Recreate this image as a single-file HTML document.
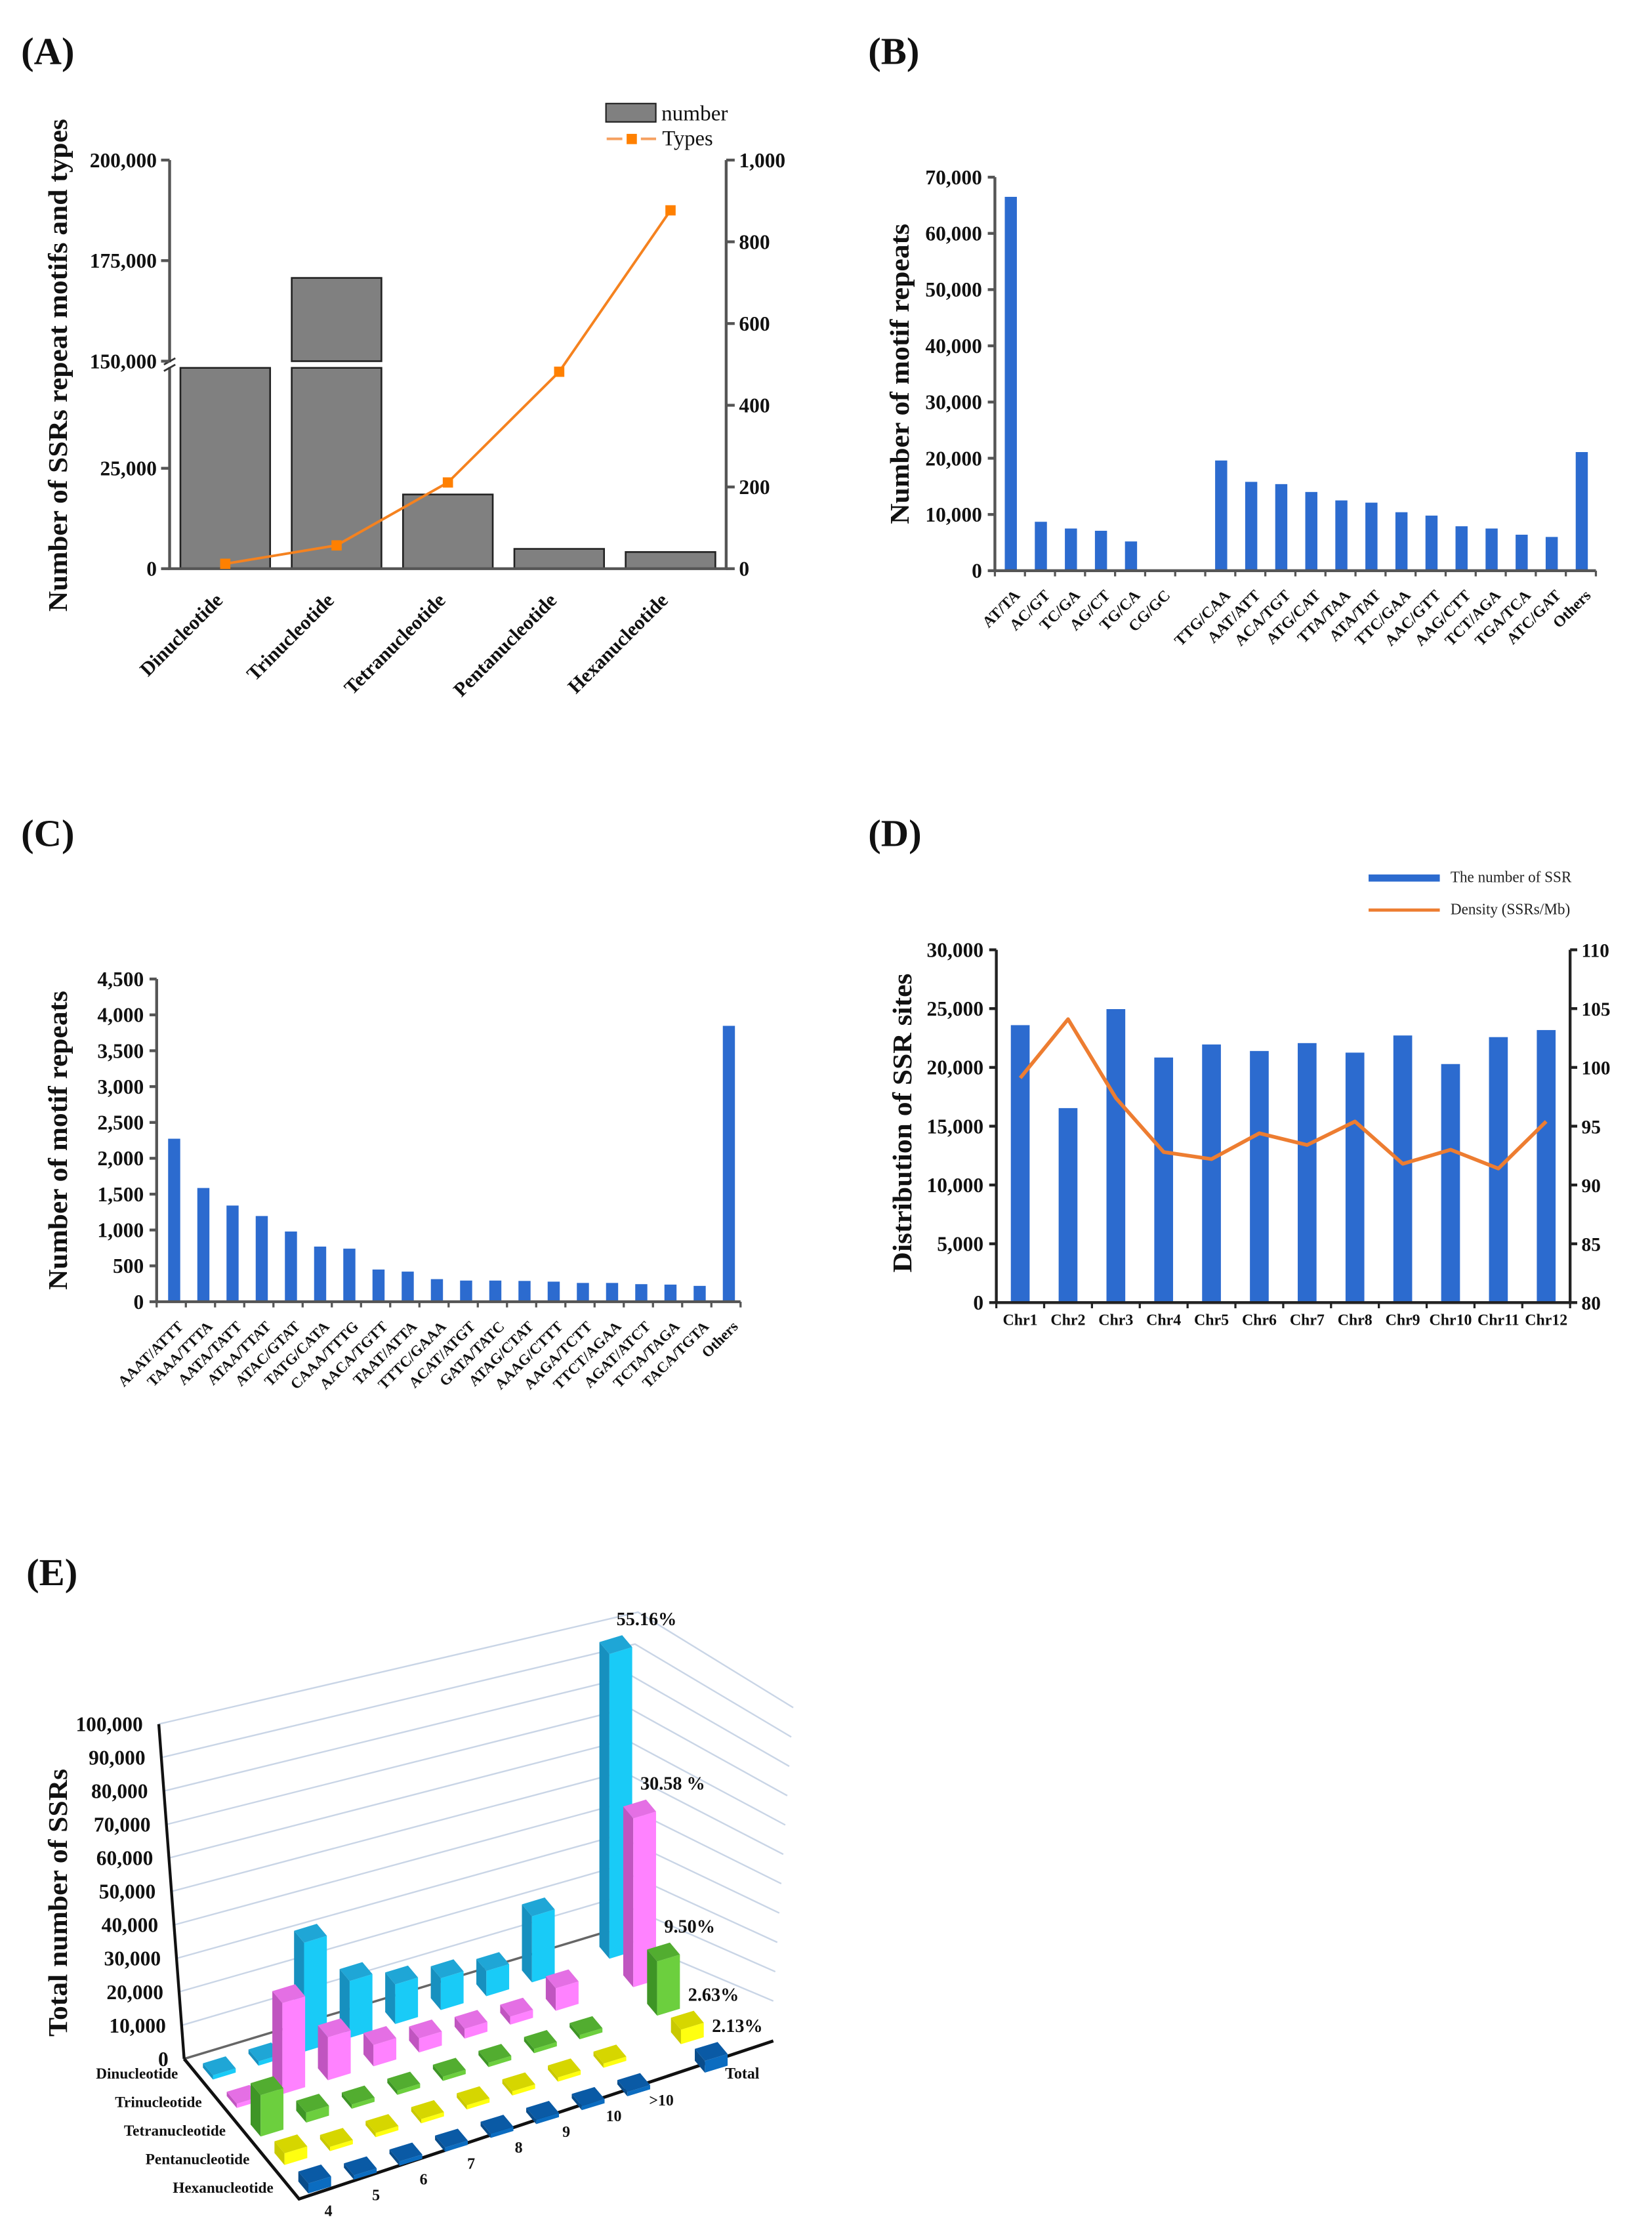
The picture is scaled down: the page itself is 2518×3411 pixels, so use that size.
<!DOCTYPE html>
<html><head><meta charset="utf-8"><title>SSR figure</title>
<style>
html,body{margin:0;padding:0;background:#fff;}
svg{display:block;font-family:"Liberation Serif","Times New Roman",serif;}
</style></head>
<body>
<svg id="fig" xmlns="http://www.w3.org/2000/svg" width="2518" height="3411" viewBox="0 0 1160 1571.4" preserveAspectRatio="none">
<rect x="0" y="0" width="1160" height="1571.4" fill="#fff"/>
<g id="pa"></g>
<g id="pb"></g>
<g id="pc"></g>
<g id="pd"></g>
<g id="pe"></g>
</svg>
<script>
// ---------- Panel A data ----------
const aCats = ["Dinucleotide","Trinucleotide","Tetranucleotide","Pentanucleotide","Hexanucleotide"];
const aNumber = [98000,170700,18475,4930,4150];
const aTypes = [12,57,211,482,877];
const aLeftTicks = [0,25000,150000,175000,200000];
const aRightTicks = [0,200,400,600,800,1000];
// ---------- Panel B data ----------
const bCats = ["AT/TA","AC/GT","TC/GA","AG/CT","TG/CA","CG/GC","","TTG/CAA","AAT/ATT","ACA/TGT","ATG/CAT","TTA/TAA","ATA/TAT","TTC/GAA","AAC/GTT","AAG/CTT","TCT/AGA","TGA/TCA","ATC/GAT","Others"];
const bVals = [66500,8700,7500,7100,5200,0,null,19600,15800,15400,14000,12500,12100,10400,9800,7900,7500,6400,6000,21100];
const bTicks = [0,10000,20000,30000,40000,50000,60000,70000];
// ---------- Panel C data ----------
const cCats = ["AAAT/ATTT","TAAA/TTTA","AATA/TATT","ATAA/TTAT","ATAC/GTAT","TATG/CATA","CAAA/TTTG","AACA/TGTT","TAAT/ATTA","TTTC/GAAA","ACAT/ATGT","GATA/TATC","ATAG/CTAT","AAAG/CTTT","AAGA/TCTT","TTCT/AGAA","AGAT/ATCT","TCTA/TAGA","TACA/TGTA","Others"];
const cVals = [2273,1586,1341,1195,979,769,740,449,420,315,295,295,290,280,262,262,245,239,221,3847];
const cTicks = [0,500,1000,1500,2000,2500,3000,3500,4000,4500];
// ---------- Panel D data ----------
const dCats = ["Chr1","Chr2","Chr3","Chr4","Chr5","Chr6","Chr7","Chr8","Chr9","Chr10","Chr11","Chr12"];
const dCounts = [23593,16538,24957,20840,21950,21395,22066,21256,22714,20285,22575,23176];
const dDensity = [99.1,104.1,97.4,92.8,92.2,94.4,93.4,95.4,91.8,93.0,91.4,95.4];
const dLeftTicks = [0,5000,10000,15000,20000,25000,30000];
const dRightTicks = [80,85,90,95,100,105,110];
// ---------- Panel E data ----------
const eRows = ["Dinucleotide","Trinucleotide","Tetranucleotide","Pentanucleotide","Hexanucleotide"];
const eCols = ["4","5","6","7","8","9","10",">10","Total"];
const eDi = [0,0,33000,17300,12100,9800,7800,20500,95500];
const eTri = [0,27400,13000,6500,4300,3000,2500,7000,52900];
const eTetra = [12400,3000,1000,1000,900,800,700,700,17000];
const ePenta = [3500,1000,900,800,700,600,500,500,4550];
const eHexa = [3000,900,800,700,600,500,400,400,3700];
const ePct = ["55.16%","30.58 %","9.50%","2.63%","2.13%"];
const eTicks = [0,10000,20000,30000,40000,50000,60000,70000,80000,90000,100000];

const NS = "http://www.w3.org/2000/svg";
function mk(tag, attrs, parent, txt){
  const e = document.createElementNS(NS, tag);
  for (const k in attrs) e.setAttribute(k, attrs[k]);
  if (txt !== undefined) e.textContent = txt;
  parent.appendChild(e);
  return e;
}
const fmt = v => v.toLocaleString("en-US");
const BLUE = "#2c6bcf";

// ---------- Panel letters ----------
(function(){
  const fig = document.getElementById("fig");
  const letters = [["(A)",14.8,45],["(B)",609.6,45],["(C)",14.8,594],["(D)",609.6,594],["(E)",18.5,1113]];
  letters.forEach(l => {
    const t = mk("text",{x:l[1],y:l[2],"font-size":27,"font-weight":"bold",fill:"#111"},fig,l[0]);
    
    
  });
})();

// ---------- Panel A ----------
(function(){
  const g = document.getElementById("pa");
  const L = 119.1, R = 509.9, Y0 = 399.3;
  const slot = (R - L) / aCats.length;
  const cxA = i => L + (i + 0.5) * slot;
  function yA(v){
    if (v <= 50000) return Y0 - v / 25000 * 70.5;
    if (v >= 150000) return 253.6 - (v - 150000) / 25000 * 70.6;
    return 258.3;
  }
  const yR = v => Y0 - v / 1000 * (Y0 - 112.4);
  aNumber.forEach((v, i) => {
    const x = cxA(i) - 31.5;
    const lowTop = v > 50000 ? 258.3 : yA(v);
    const r1 = mk("rect",{x:x,y:lowTop,width:63,height:Y0-lowTop,fill:"#808080",stroke:"#222","stroke-width":1.2},g);
    
    
    if (v > 150000) {
      const r2 = mk("rect",{x:x,y:yA(v),width:63,height:253.6-yA(v),fill:"#808080",stroke:"#222","stroke-width":1.2},g);
      
      
    }
  });
  const ax = mk("path",{d:`M${L},112.4 V${Y0} H${R} V112.4`,fill:"none",stroke:"#555","stroke-width":2},g);
  
  
  const brk = mk("rect",{x:L-4,y:254.4,width:8,height:3.4,fill:"#fff"},g);
  
  
  const b1 = mk("path",{d:`M${L-4},256 L${L+4},251.5 M${L-4},260.5 L${L+4},256`,stroke:"#333","stroke-width":1.3},g);
  
  
  aLeftTicks.forEach(v => {
    const y = yA(v);
    const tk = mk("line",{x1:L-6,x2:L,y1:y,y2:y,stroke:"#555","stroke-width":2},g);
    
    
    const t = mk("text",{x:L-9,y:y+5,"font-size":14.5,"font-weight":"bold","text-anchor":"end",fill:"#111"},g,fmt(v));
    
    
  });
  aRightTicks.forEach(v => {
    const y = yR(v);
    const tk = mk("line",{x1:R,x2:R+6,y1:y,y2:y,stroke:"#555","stroke-width":2},g);
    
    
    const t = mk("text",{x:R+9,y:y+5,"font-size":14.5,"font-weight":"bold",fill:"#111"},g,fmt(v));
    
    
  });
  const pts = aTypes.map((v,i) => cxA(i) + "," + yR(v)).join(" ");
  const pl = mk("polyline",{points:pts,fill:"none",stroke:"#f5821f","stroke-width":1.8},g);
  
  
  aTypes.forEach((v,i) => {
    const m = mk("rect",{x:cxA(i)-3.6,y:yR(v)-3.6,width:7.2,height:7.2,fill:"#ff8000"},g);
    
    
  });
  aCats.forEach((c,i) => {
    const x = cxA(i) - 1, y = Y0 + 23;
    const t = mk("text",{x:x,y:y,"font-size":14,"font-weight":"bold","text-anchor":"end",transform:`rotate(-45 ${x} ${y})`,fill:"#111"},g,c);
    
    
  });
  const yt = mk("text",{x:0,y:0,"font-size":19,"font-weight":"bold","text-anchor":"middle",transform:"translate(47,256.5) rotate(-90)",textLength:346,lengthAdjust:"spacingAndGlyphs",fill:"#111"},g,"Number of SSRs repeat motifs and types");
  
  
  const lg = mk("g",{},g);
  
  
  const lr = mk("rect",{x:425.5,y:72.7,width:35,height:12.9,fill:"#808080",stroke:"#222","stroke-width":1},lg);
  
  
  const lt = mk("text",{x:464.4,y:84.6,"font-size":15.3,fill:"#111"},lg,"number");
  
  
  const ll = mk("path",{d:"M426,97.5 H437 M450,97.5 H460.7",stroke:"#f5a060","stroke-width":1.8},lg);
  
  
  const lm = mk("rect",{x:440,y:94,width:7.2,height:7.2,fill:"#ff8000"},lg);
  
  
  const lt2 = mk("text",{x:465,y:102.1,"font-size":15,fill:"#111"},lg,"Types");
  
  
})();

// ---------- simple bar chart helper (B, C) ----------
function barChart(gid, cats, vals, ticks, L, Y0, top, vmax, slot, off, bw, title, titleX, titleLen, labelFs){
  const g = document.getElementById(gid);
  const R = L + slot * cats.length;
  const y = v => Y0 - v / vmax * (Y0 - top);
  const cxf = i => L + (i + off) * slot;
  vals.forEach((v,i) => {
    if (v === null) return;
    const r = mk("rect",{x:cxf(i)-bw/2,y:y(v),width:bw,height:Y0-y(v),fill:BLUE},g);
    
    
  });
  const ax = mk("path",{d:`M${L},${top} V${Y0} H${R}`,fill:"none",stroke:"#555","stroke-width":2},g);
  
  
  for (let i = 0; i <= cats.length; i++) {
    const tk = mk("line",{x1:L+i*slot,x2:L+i*slot,y1:Y0,y2:Y0+4,stroke:"#555","stroke-width":1.5},g);
    
    
  }
  ticks.forEach(v => {
    const tk = mk("line",{x1:L-5,x2:L,y1:y(v),y2:y(v),stroke:"#555","stroke-width":2},g);
    
    
    const t = mk("text",{x:L-9,y:y(v)+5,"font-size":14.5,"font-weight":"bold","text-anchor":"end",fill:"#111"},g,fmt(v));
    
    
  });
  cats.forEach((c,i) => {
    if (!c) return;
    const x = cxf(i) + 7, yy = Y0 + 18;
    const t = mk("text",{x:x,y:yy,"font-size":labelFs,"font-weight":"bold","text-anchor":"end",transform:`rotate(-45 ${x} ${yy})`,fill:"#111"},g,c);
    
    
  });
  const cy = (top + Y0) / 2;
  const tt = mk("text",{x:0,y:0,"font-size":19,"font-weight":"bold","text-anchor":"middle",transform:`translate(${titleX},${cy}) rotate(-90)`,textLength:titleLen,lengthAdjust:"spacingAndGlyphs",fill:"#111"},g,title);
  
  
}
barChart("pb", bCats, bVals, bTicks, 698.6, 400.7, 124.4, 70000, 21.1, 0.53, 8.5, "Number of motif repeats", 638, 211, 11);
barChart("pc", cCats, cVals, cTicks, 110, 914, 687.4, 4500, 20.5, 0.6, 8.5, "Number of motif repeats", 47, 210, 10.5);

// ---------- Panel D ----------
(function(){
  const g = document.getElementById("pd");
  const L = 699.6, R = 1102.5, Y0 = 914.6, T = 666.9;
  const slot = (R - L) / dCats.length;
  const cxD = i => L + (i + 0.5) * slot;
  const y = v => Y0 - v / 30000 * (Y0 - T);
  const y2 = v => Y0 - (v - 80) / 30 * (Y0 - T);
  dCounts.forEach((v,i) => {
    const r = mk("rect",{x:cxD(i)-6.6,y:y(v),width:13.2,height:Y0-y(v),fill:BLUE},g);
    
    
  });
  const ax = mk("path",{d:`M${L},${T} V${Y0} H${R} V${T}`,fill:"none",stroke:"#222","stroke-width":2},g);
  
  
  for (let i = 0; i <= dCats.length; i++) {
    const tk = mk("line",{x1:L+i*slot,x2:L+i*slot,y1:Y0,y2:Y0+4,stroke:"#222","stroke-width":1.5},g);
    
    
  }
  dLeftTicks.forEach(v => {
    const tk = mk("line",{x1:L-5,x2:L,y1:y(v),y2:y(v),stroke:"#222","stroke-width":2},g);
    
    
    const t = mk("text",{x:L-9,y:y(v)+5,"font-size":14.5,"font-weight":"bold","text-anchor":"end",fill:"#111"},g,fmt(v));
    
    
  });
  dRightTicks.forEach(v => {
    const tk = mk("line",{x1:R,x2:R+5,y1:y2(v),y2:y2(v),stroke:"#222","stroke-width":2},g);
    
    
    const t = mk("text",{x:R+8,y:y2(v)+5,"font-size":13.5,"font-weight":"bold",fill:"#111"},g,String(v));
    
    
  });
  const pts = dDensity.map((v,i) => cxD(i) + "," + y2(v)).join(" ");
  const pl = mk("polyline",{points:pts,fill:"none",stroke:"#ed7d31","stroke-width":2.6,"stroke-linejoin":"round"},g);
  
  
  dCats.forEach((c,i) => {
    const t = mk("text",{x:cxD(i),y:930.4,"font-size":11,"font-weight":"bold","text-anchor":"middle",fill:"#111"},g,c);
    
    
  });
  const tt = mk("text",{x:0,y:0,"font-size":19,"font-weight":"bold","text-anchor":"middle",transform:"translate(640,788.5) rotate(-90)",textLength:210,lengthAdjust:"spacingAndGlyphs",fill:"#111"},g,"Distribution of SSR sites");
  
  
  const lg = mk("g",{},g);
  
  
  const s1 = mk("rect",{x:961,y:614,width:50,height:5,fill:BLUE},lg);
  
  
  const t1 = mk("text",{x:1018.5,y:619.5,"font-size":11,textLength:85,lengthAdjust:"spacingAndGlyphs",fill:"#222"},lg,"The number of SSR");
  
  
  const s2 = mk("line",{x1:961,x2:1011,y1:639,y2:639,stroke:"#ed7d31","stroke-width":2.2},lg);
  
  
  const t2 = mk("text",{x:1018.5,y:642,"font-size":11,textLength:84,lengthAdjust:"spacingAndGlyphs",fill:"#222"},lg,"Density (SSRs/Mb)");
  
  
})();

// ---------- Panel E (pseudo 3D) ----------
(function(){
  const g = document.getElementById("pe");
  const D0 = [154,1453.5], CX = [32,-9.75], RX = [16.75,20];
  const colPos = [0,1,2,3,4,5,6,7,8.7];
  const series = [eDi, eTri, eTetra, ePenta, eHexa];
  const colors = [
    {f:"#19cbf7",l:"#1790bf",t:"#1fa6d6"},
    {f:"#ff82ff",l:"#c055c0",t:"#e46fe4"},
    {f:"#6ccf3e",l:"#3e9526",t:"#52ad30"},
    {f:"#ffff10",l:"#c9c900",t:"#d6d600"},
    {f:"#0b6cc0",l:"#094c8a",t:"#0a5aa5"}
  ];
  const P = (i,j) => [D0[0] + i*CX[0] + j*RX[0], D0[1] + i*CX[1] + j*RX[1]];
  const sc = i => (2.35 - 0.11 * (i + 0.5) / 9.2) / 1000;
  eTicks.forEach(v => {
    const t = v / 100000;
    const lx = 129.3 - 18*t, ly = 1445.6 - 235*t;
    const rx = 427 + 21*t, ry = 1356 - 224*t;
    const ex = 543 + 14*t, ey = 1405 - 206*t;
    if (v > 0) {
      const gl = mk("polyline",{points:`${lx},${ly} ${rx},${ry} ${ex},${ey}`,fill:"none",stroke:"#c9d5e6","stroke-width":1.1},g);
      
      
    } else {
      const gl = mk("line",{x1:rx,y1:ry,x2:ex,y2:ey,stroke:"#c9d5e6","stroke-width":1.1},g);
      
      
    }
    const tl = mk("text",{x:lx-11,y:ly+5,"font-size":14.5,"font-weight":"bold","text-anchor":"end",fill:"#111"},g,fmt(v));
    
    
  });
  const backEdge = mk("line",{x1:129.3,y1:1445.6,x2:427,y2:1356,stroke:"#666","stroke-width":1.6},g);
  
  
  const axis = mk("line",{x1:129.3,y1:1445.6,x2:111.5,y2:1210.6,stroke:"#111","stroke-width":2},g);
  
  
  const fl = mk("polyline",{points:"129.3,1445.6 210,1544 543,1433",fill:"none",stroke:"#111","stroke-width":2.2},g);
  
  
  const w = 0.5, d = 0.42;
  const add = (a,b) => [a[0]+b[0], a[1]+b[1]];
  const mul = (v,s) => [v[0]*s, v[1]*s];
  const up = (p,h) => [p[0], p[1]-h];
  const poly = p => p.map(q => q[0].toFixed(2)+","+q[1].toFixed(2)).join(" ");
  for (let j = 0; j < series.length; j++) {
    for (let k = colPos.length - 1; k >= 0; k--) {
      const v = series[j][k];
      const ip = colPos[k];
      const c = P(ip, j);
      const h = Math.max(v * sc(ip), 3);
      const FL = add(add(c, mul(CX,-w/2)), mul(RX,d/2));
      const FR = add(add(c, mul(CX,w/2)), mul(RX,d/2));
      const BL = add(add(c, mul(CX,-w/2)), mul(RX,-d/2));
      const BR = add(add(c, mul(CX,w/2)), mul(RX,-d/2));
      const grp = mk("g",{},g);
      
      
      const lf = mk("polygon",{points:poly([BL,FL,up(FL,h),up(BL,h)]),fill:colors[j].l},grp);
      
      
      const ff = mk("polygon",{points:poly([FL,FR,up(FR,h),up(FL,h)]),fill:colors[j].f},grp);
      
      
      const tf = mk("polygon",{points:poly([up(FL,h),up(FR,h),up(BR,h),up(BL,h)]),fill:colors[j].t},grp);
      
      
      if (k === colPos.length - 1) {
        const top = up(BR, h);
        const pt = mk("text",{x:top[0]-4,y:top[1]-7,"font-size":13,"font-weight":"bold",fill:"#111"},g,ePct[j]);
        
        
      }
    }
  }
  eRows.forEach((r,j) => {
    const p = P(0, j);
    const t = mk("text",{x:p[0]-29,y:p[1]+6,"font-size":10.7,"font-weight":"bold","text-anchor":"end",fill:"#111"},g,r);
    
    
  });
  eCols.forEach((c,k) => {
    const ip = colPos[k];
    const x = 230.6 + ip*33.4, y = 1552 - ip*11.1;
    const t = mk("text",{x:x,y:y+4,"font-size":11,"font-weight":"bold","text-anchor":"middle",fill:"#111"},g,c);
    
    
  });
  const tt = mk("text",{x:0,y:0,"font-size":19,"font-weight":"bold","text-anchor":"middle",transform:"translate(47,1336) rotate(-90)",textLength:188,lengthAdjust:"spacingAndGlyphs",fill:"#111"},g,"Total number of SSRs");
  
  
})();
</script>
</body></html>
